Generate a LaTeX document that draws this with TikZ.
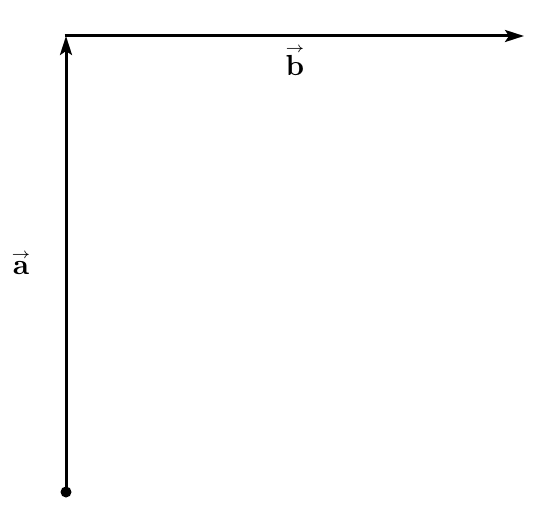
\documentclass[tikz,border=0pt]{standalone}
\usetikzlibrary{arrows.meta}
\newcommand{\myvec}[1]{\mathop{\mathbf{#1}}\limits^{\raisebox{-0.9pt}{$\scriptscriptstyle\rightarrow$}}}
\begin{document}
\begin{tikzpicture}[x=1pt,y=1pt,
  vec/.style={line width=3pt,-{Stealth[length=19pt,width=12pt,inset=4pt]}},
  lbl/.style={inner sep=0pt,anchor=base}]
\useasboundingbox (0,0) rectangle (535,523);
\coordinate (o) at (66,31);
\coordinate (c) at (66,487);
\coordinate (e) at (524,487);
\fill (o) circle (5.5);
\draw[vec] (o) -- (c);
\draw[vec,shorten <=-1.5pt] (c) -- (e);
\node[lbl] (la) at (21,248) {\scalebox{2.9}{$\myvec{a}$}};
\node[lbl] (lb) at (295,450) {\scalebox{2.9}{$\myvec{b}$}};
\end{tikzpicture}
\end{document}
